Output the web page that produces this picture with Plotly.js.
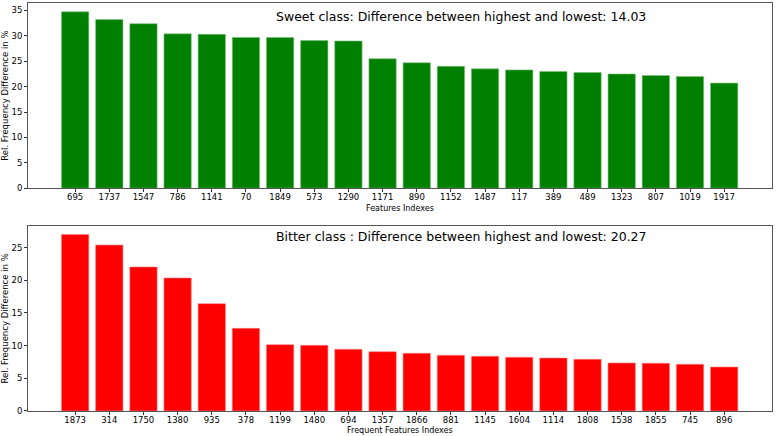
<!DOCTYPE html>
<html>
<head>
<meta charset="utf-8">
<script src="https://cdn.plot.ly/plotly-3.0.1.min.js"></script>
<style>
  html, body {margin:0; padding:0; background:#fff;}
  #chart {width:776px; height:436px;}
</style>
</head>
<body>
<div id="chart"></div>
<script>
// sweet class features (top panel)
const sweetIdx = ["695","1737","1547","786","1141","70","1849","573","1290","1171",
                  "890","1152","1487","117","389","489","1323","807","1019","1917"];
const sweetVals = [34.73, 33.2, 32.4, 30.4, 30.3, 29.7, 29.7, 29.1, 29.0, 25.5,
                   24.7, 24.0, 23.5, 23.3, 23.0, 22.8, 22.5, 22.2, 22.0, 20.70];

// bitter class features (bottom panel)
const bitterIdx = ["1873","314","1750","1380","935","378","1199","1480","694","1357",
                   "1866","881","1145","1604","1114","1808","1538","1855","745","896"];
const bitterVals = [27.0, 25.4, 22.04, 20.36, 16.43, 12.65, 10.15, 10.05, 9.44, 9.08,
                    8.83, 8.52, 8.37, 8.21, 8.11, 7.91, 7.35, 7.30, 7.14, 6.73];

const sweetTitle = "Sweet class: Difference between highest and lowest: 14.03";
const bitterTitle = "Bitter class : Difference between highest and lowest: 20.27";

const FONT = "DejaVu Sans, sans-serif";

const traces = [
    {
        x: sweetIdx, y: sweetVals, type: "bar", xaxis: "x", yaxis: "y",
        marker: {color: "#008000", line: {width: 0.6, color: "#7fbf7f"}},
        width: 0.8
    },
    {
        x: bitterIdx, y: bitterVals, type: "bar", xaxis: "x2", yaxis: "y2",
        marker: {color: "#ff0000", line: {width: 0.6, color: "#ff8080"}},
        width: 0.8
    }
];

const axisCommon = {
    showline: true, mirror: true, linecolor: "#555", linewidth: 1,
    ticks: "outside", ticklen: 3, tickcolor: "#333", tickwidth: 1,
    showgrid: false, zeroline: false,
    tickfont: {size: 8.5, family: FONT, color: "#000"}
};

const ytitle = {text: "Rel. Frequency Difference in %", font: {size: 8.5, family: FONT, color: "#000"}, standoff: 4};

const layout = {
    width: 776, height: 436,
    margin: {l: 28, r: 4, t: 3, b: 25},
    paper_bgcolor: "#fff", plot_bgcolor: "#fff",
    showlegend: false,
    bargap: 0.2,
    xaxis: Object.assign({}, axisCommon, {type: "category", range: [-1.38, 20.4], anchor: "y", ticklabelstandoff: -2}),
    yaxis: Object.assign({}, axisCommon, {domain: [0.546, 1], range: [0, 36.47], dtick: 5, anchor: "x", title: ytitle}),
    xaxis2: Object.assign({}, axisCommon, {type: "category", range: [-1.38, 20.4], anchor: "y2", ticklabelstandoff: -2}),
    yaxis2: Object.assign({}, axisCommon, {domain: [0, 0.454], range: [0, 28.35], dtick: 5, anchor: "x2", title: ytitle}),
    annotations: [
        {
            text: sweetTitle, xref: "paper", yref: "paper",
            x: 0.582, y: 0.966, xanchor: "center", yanchor: "middle", showarrow: false,
            font: {size: 12.5, family: FONT, color: "#000"}
        },
        {
            text: bitterTitle, xref: "paper", yref: "paper",
            x: 0.582, y: 0.427, xanchor: "center", yanchor: "middle", showarrow: false,
            font: {size: 12.5, family: FONT, color: "#000"}
        },
        // x axis titles placed as text so they sit tight under the tick labels
        {
            text: "Features Indexes", xref: "paper", yref: "paper",
            x: 0.5, y: 0.496, xanchor: "center", yanchor: "middle", showarrow: false,
            font: {size: 8, family: FONT, color: "#000"}
        },
        {
            text: "Frequent Features Indexes", xref: "paper", yref: "paper",
            x: 0.5, y: -0.048, xanchor: "center", yanchor: "middle", showarrow: false,
            font: {size: 8, family: FONT, color: "#000"}
        }
    ]
};

Plotly.newPlot("chart", traces, layout, {staticPlot: true});
</script>
</body>
</html>
